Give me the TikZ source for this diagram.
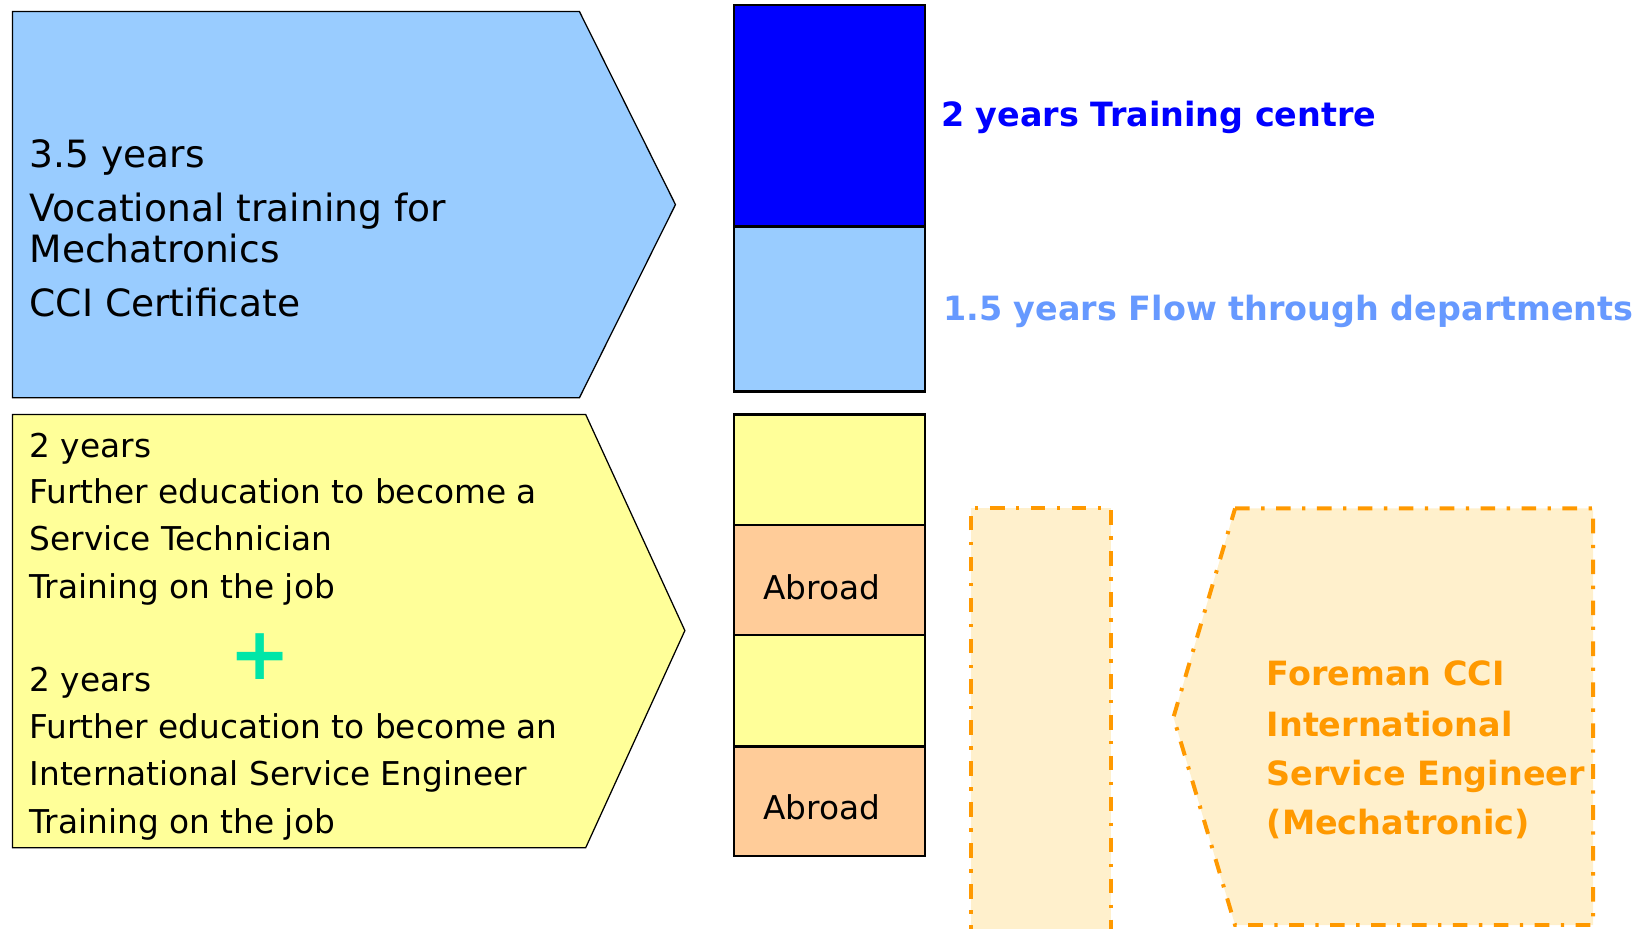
\documentclass[tikz,border=0pt]{standalone}
\usepackage{fontspec}
\setmainfont{DejaVu Sans}
\usetikzlibrary{positioning}
\definecolor{paleblue}{HTML}{99CCFF}
\definecolor{deepblue}{HTML}{0000FF}
\definecolor{paleyellow}{HTML}{FFFF99}
\definecolor{peach}{HTML}{FFCC99}
\definecolor{cream}{HTML}{FFF0CC}
\definecolor{amber}{HTML}{FF9900}
\definecolor{skyblue}{HTML}{6699FF}
\definecolor{mint}{HTML}{00E6A8}

\begin{document}
\begin{tikzpicture}[x=0.5pt, y=-0.5pt,
	txt/.style={font=\fontsize{15.7}{18}\selectfont, anchor=base west, inner sep=0pt},
	boldtxt/.style={txt, font=\fontsize{16}{18}\selectfont\bfseries},
	bar/.style={draw=black, line width=1.2pt},
	dashdot/.style={draw=amber, fill=cream, line width=1.9pt, dash pattern=on 7pt off 5.5pt on 1.6pt off 5.5pt}]
		\useasboundingbox (0, 0) rectangle (1568, 889);
		\clip (0, 0) rectangle (1568, 889);
		% Arrow shapes on the left
		\draw[fill=paleblue, line width=0.6pt] (12, 11) -- (555, 11) -- (647, 196) -- (555, 381) -- (12, 381) -- cycle;
		\draw[fill=paleyellow, line width=0.6pt] (12, 397) -- (561, 397) -- (656, 604) -- (561, 812) -- (12, 812) -- cycle;
		% Time bar
		\draw[bar, fill=deepblue] (703, 5) rectangle (886, 217);
		\draw[bar, fill=paleblue] (703, 217) rectangle (886, 375);
		\draw[bar, fill=paleyellow] (703, 397) rectangle (886, 503);
		\draw[bar, fill=peach] (703, 503) rectangle (886, 608);
		\draw[bar, fill=paleyellow] (703, 608) rectangle (886, 715);
		\draw[bar, fill=peach] (703, 715) rectangle (886, 820);
		% Dashed shapes on the right
		\draw[dashdot] (930, 900) -- (930, 487) -- (1064, 487) -- (1064, 900);
		\draw[dashdot] (1183, 487) -- (1526, 487) -- (1526, 886) -- (1183, 886) -- (1124, 687) -- cycle;
		
		% Texts
		\foreach \y/\t [count=\i] in {160/3.5 years, 212/Vocational training for, 251/Mechatronics, 303/CCI Certificate}
			\node[txt, font=\fontsize{18}{20}\selectfont] (voc\i) at (28, \y) {\t};
		\foreach \y/\t [count=\i] in {438/2 years, 482/Further education to become a, 527/Service Technician, 573/Training on the job,
			662/2 years, 707/Further education to become an, 752/International Service Engineer, 798/Training on the job}
			\node[txt] (edu\i) at (28, \y) {\t};
		\node[font=\fontsize{35}{35}\selectfont\bfseries, text=mint, inner sep=0pt] (plus) at (249, 629) {+};
		\node[txt, anchor=base] (abroad1) at (787, 574) {Abroad};
		\node[txt, anchor=base] (abroad2) at (787, 785) {Abroad};
		\node[boldtxt, text=deepblue] (centre) at (901, 121) {2 years Training centre};
		\node[boldtxt, text=skyblue] (flow) at (903, 307) {1.5 years Flow through departments};
		\foreach \y/\t [count=\i] in {657/Foreman CCI, 705/International, 752/Service Engineer, 799/(Mechatronic)}
			\node[boldtxt, text=amber] (fore\i) at (1213, \y) {\t};
	\end{tikzpicture}
\end{document}
